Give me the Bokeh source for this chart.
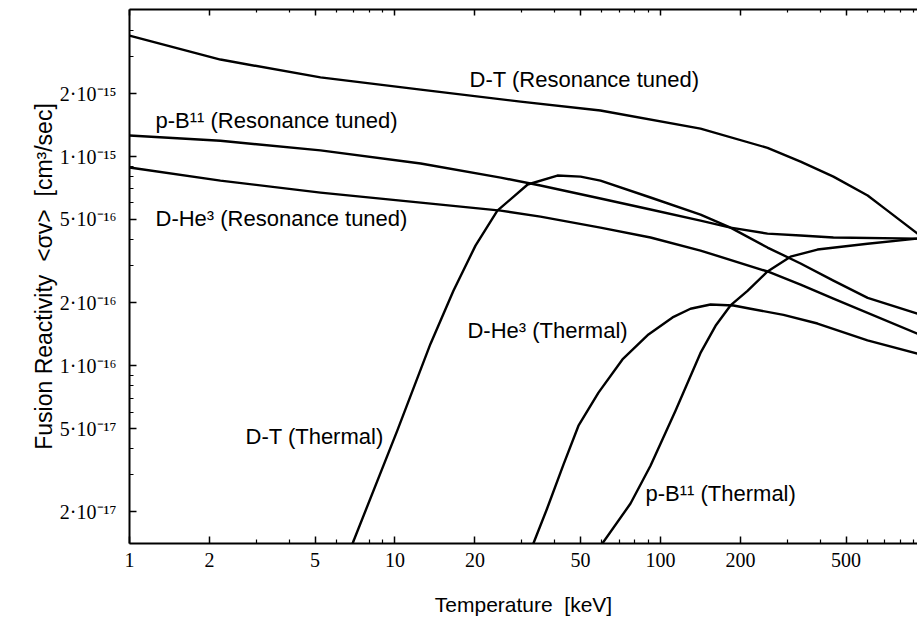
from bokeh.plotting import figure
from bokeh.models import Range1d, LogAxis, FixedTicker, CustomJSTickFormatter, Label
from bokeh.embed import file_html
from bokeh.resources import INLINE

# ---------------- data ----------------
# D-T (Resonance tuned)
T_dt_res = [1.0, 2.2, 5.24, 12.5, 29.7, 59.4, 141.5, 253, 337, 448, 603, 692, 929]
v_dt_res = [3.79e-15, 2.91e-15, 2.39e-15, 2.09e-15, 1.83e-15, 1.66e-15, 1.36e-15,
            1.10e-15, 9.46e-16, 8.02e-16, 6.51e-16, 5.70e-16, 4.28e-16]

# p-B11 (Resonance tuned)
T_pb_res = [1.0, 2.2, 5.24, 12.5, 25.0, 35.3, 59.4, 91.7, 141.5, 183.5, 253, 337, 448, 929]
v_pb_res = [1.26e-15, 1.19e-15, 1.07e-15, 9.26e-16, 7.93e-16, 7.27e-16, 6.30e-16,
            5.58e-16, 4.94e-16, 4.57e-16, 4.28e-16, 4.19e-16, 4.10e-16, 4.05e-16]

# D-He3 (Resonance tuned)
T_dhe_res = [1.0, 2.2, 5.24, 12.5, 25.0, 35.3, 59.4, 91.7, 141.5, 253, 337, 448, 929]
v_dhe_res = [8.86e-16, 7.67e-16, 6.72e-16, 6.02e-16, 5.51e-16, 5.16e-16, 4.57e-16,
             4.10e-16, 3.55e-16, 2.82e-16, 2.44e-16, 2.09e-16, 1.42e-16]

# D-T (Thermal)
T_dt_th = [6.23, 6.92, 10.2, 13.6, 16.6, 20.1, 24.3, 31.6, 40.9, 50.0, 59.4, 91.7,
           141.5, 183.5, 253, 337, 448, 603, 929]
v_dt_th = [1.01e-17, 1.41e-17, 4.89e-17, 1.27e-16, 2.28e-16, 3.75e-16, 5.51e-16,
           7.35e-16, 8.11e-16, 8.02e-16, 7.67e-16, 6.37e-16, 5.28e-16, 4.57e-16,
           3.67e-16, 3.08e-16, 2.55e-16, 2.11e-16, 1.77e-16]

# D-He3 (Thermal)
T_dhe_th = [30.2, 33.2, 37.5, 43.1, 49.1, 58.4, 71.9, 90.1, 111, 129.7, 154.3, 188.4,
            218.3, 290.6, 390.2, 602, 929]
v_dhe_th = [1.03e-17, 1.41e-17, 2.09e-17, 3.36e-17, 5.16e-17, 7.43e-17, 1.07e-16,
            1.41e-16, 1.70e-16, 1.87e-16, 1.96e-16, 1.94e-16, 1.87e-16, 1.75e-16,
            1.59e-16, 1.32e-16, 1.14e-16]

# p-B11 (Thermal)
T_pb_th = [54.5, 60.4, 77.1, 91.7, 113.9, 141.5, 161.2, 183.5, 212.7, 253, 308.8,
           390.2, 602, 929]
v_pb_th = [1.17e-17, 1.41e-17, 2.19e-17, 3.32e-17, 6.09e-17, 1.15e-16, 1.55e-16,
           1.94e-16, 2.28e-16, 2.82e-16, 3.32e-16, 3.59e-16, 3.83e-16, 4.05e-16]

series = [(T_dt_res, v_dt_res), (T_pb_res, v_pb_res), (T_dhe_res, v_dhe_res),
          (T_dt_th, v_dt_th), (T_dhe_th, v_dhe_th), (T_pb_th, v_pb_th)]

# curve labels and where they sit (T, sigma-v)
label_texts = ["D-T (Resonance tuned)", "p-B\u00b9\u00b9 (Resonance tuned)",
               "D-He\u00b3 (Resonance tuned)", "D-He\u00b3 (Thermal)",
               "D-T (Thermal)", "p-B\u00b9\u00b9 (Thermal)"]
label_T = [19.1, 1.253, 1.253, 18.75, 2.735, 87.8]
label_v = [2.34e-15, 1.49e-15, 5.08e-16, 1.48e-16, 4.59e-17, 2.45e-17]

# ticks
x_major = [1, 2, 5, 10, 20, 50, 100, 200, 500]
x_major_labels = ["1", "2", "5", "10", "20", "50", "100", "200", "500"]
x_minor = [3, 4, 6, 7, 8, 9, 30, 40, 60, 70, 80, 90, 300, 400, 600, 700, 800, 900]
y_major = [2e-17, 5e-17, 1e-16, 2e-16, 5e-16, 1e-15, 2e-15]
y_major_labels = ["2\u00b710\u207b\u00b9\u2077", "5\u00b710\u207b\u00b9\u2077",
                  "1\u00b710\u207b\u00b9\u2076", "2\u00b710\u207b\u00b9\u2076",
                  "5\u00b710\u207b\u00b9\u2076", "1\u00b710\u207b\u00b9\u2075",
                  "2\u00b710\u207b\u00b9\u2075"]
y_minor = [3e-17, 4e-17, 6e-17, 7e-17, 8e-17, 9e-17, 3e-16, 4e-16, 6e-16, 7e-16,
           8e-16, 9e-16, 3e-15, 4e-15]

x_lo, x_hi = 1, 929
y_lo, y_hi = 1.41e-17, 5.05e-15

# ---------------- figure ----------------
p = figure(width=917, height=621, x_axis_type="log", y_axis_type="log",
           x_range=Range1d(x_lo, x_hi), y_range=Range1d(y_lo, y_hi),
           output_backend="svg", toolbar_location=None,
           min_border_left=129, min_border_right=0, min_border_top=9, min_border_bottom=78)
p.outline_line_color = None
p.grid.visible = False
p.background_fill_color = "white"
p.border_fill_color = "white"

lookup_code = """
const i = tvals.findIndex(t => Math.abs(t - tick) <= 1e-6 * Math.abs(t));
return i >= 0 ? labs[i] : "";
"""

SERIF = "Liberation Serif"
SANS = "Liberation Sans"


def style_ticks(ax, major_in, minor_in):
    ax.axis_line_width = 2
    ax.axis_line_color = "black"
    ax.major_tick_line_width = 1.5
    ax.minor_tick_line_width = 1.2
    ax.major_tick_in = major_in
    ax.major_tick_out = 0
    ax.minor_tick_in = minor_in
    ax.minor_tick_out = 0


# bottom axis
xa = p.xaxis[0]
style_ticks(xa, 7, 4)
xa.ticker = FixedTicker(ticks=x_major, minor_ticks=x_minor)
xa.formatter = CustomJSTickFormatter(args=dict(tvals=x_major, labs=x_major_labels), code=lookup_code)
xa.major_label_text_font = SERIF
xa.major_label_text_font_size = "20px"
xa.major_label_text_color = "black"
xa.major_label_standoff = 9
xa.axis_label = "Temperature\u00a0 [keV]"
xa.axis_label_text_font = SANS
xa.axis_label_text_font_size = "21px"
xa.axis_label_text_font_style = "normal"
xa.axis_label_text_color = "black"
xa.axis_label_standoff = 23

# left axis
ya = p.yaxis[0]
style_ticks(ya, 7, 4)
ya.ticker = FixedTicker(ticks=y_major, minor_ticks=y_minor)
ya.formatter = CustomJSTickFormatter(args=dict(tvals=y_major, labs=y_major_labels), code=lookup_code)
ya.major_label_text_font = SERIF
ya.major_label_text_font_size = "20px"
ya.major_label_text_color = "black"
ya.major_label_standoff = 13
ya.axis_label = "Fusion Reactivity\u00a0 <\u03c3v>\u00a0 [cm\u00b3/sec]"
ya.axis_label_text_font = SANS
ya.axis_label_text_font_size = "23px"
ya.axis_label_text_font_style = "normal"
ya.axis_label_text_color = "black"
ya.axis_label_standoff = 0

# top axis: ticks only
top = LogAxis(ticker=FixedTicker(ticks=x_major, minor_ticks=x_minor),
              formatter=CustomJSTickFormatter(code="return '';"),
              major_label_text_font_size="0px", major_label_standoff=0)
style_ticks(top, 6, 3)
p.add_layout(top, "above")

# curves
for T, v in series:
    p.line(T, v, line_color="black", line_width=2.4, line_join="round", line_cap="round")

# curve labels
for txt, lt, lv in zip(label_texts, label_T, label_v):
    p.add_layout(Label(x=lt, y=lv, text=txt, text_align="left", text_baseline="alphabetic",
                       text_font=SANS, text_font_size="22px", text_color="black"))

open("out.html", "w").write(file_html(p, INLINE))
